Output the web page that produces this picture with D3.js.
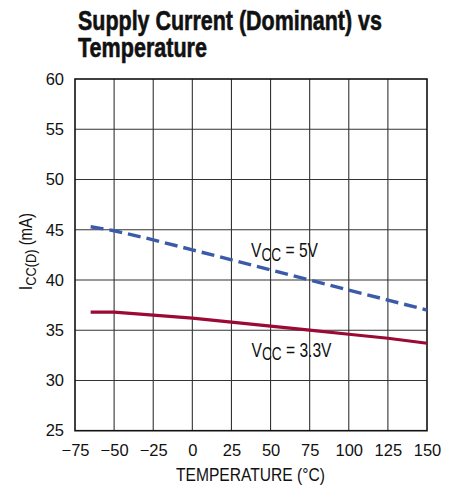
<!DOCTYPE html>
<html><head><meta charset="utf-8">
<script src="https://cdn.jsdelivr.net/npm/d3@7/dist/d3.min.js"></script>
<style>body{margin:0;background:#fff}svg{display:block}</style>
</head><body>
<svg id="c" width="458" height="490"></svg>
<script>
const temps = [-65, -50, -25, 0, 25, 50, 75, 100, 125, 150];
const vcc5 = [45.3, 44.9, 44.0, 43.0, 42.0, 41.0, 40.0, 39.0, 38.0, 37.0];
const vcc33 = [36.8, 36.8, 36.5, 36.2, 35.8, 35.4, 35.0, 34.6, 34.2, 33.7];
const xTicks = [-75, -50, -25, 0, 25, 50, 75, 100, 125, 150];
const yTicks = [25, 30, 35, 40, 45, 50, 55, 60];

const svg = d3.select("#c");
const L = 75, R = 427, T = 79, B = 430.7;
const x = d3.scaleLinear().domain([-75, 150]).range([L, R]);
const y = d3.scaleLinear().domain([25, 60]).range([B, T]);
const font = "'Liberation Sans', Arial, sans-serif";

// title
svg.append("text").attr("x", 78).attr("y", 30)
  .attr("font-family", font).attr("font-weight", "bold").attr("font-size", 28)
  .attr("stroke", "#111").attr("stroke-width", 0.6).attr("fill", "#111")
  .attr("textLength", 304).attr("lengthAdjust", "spacingAndGlyphs")
  .text("Supply Current (Dominant) vs");
svg.append("text").attr("x", 78).attr("y", 57)
  .attr("font-family", font).attr("font-weight", "bold").attr("font-size", 28)
  .attr("stroke", "#111").attr("stroke-width", 0.6).attr("fill", "#111")
  .attr("textLength", 129).attr("lengthAdjust", "spacingAndGlyphs")
  .text("Temperature");

// grid
const g = svg.append("g");
g.selectAll(".vg").data(xTicks.slice(1, -1)).join("line")
  .attr("x1", d => x(d)).attr("x2", d => x(d)).attr("y1", T).attr("y2", B)
  .attr("stroke", "#333").attr("stroke-width", 1.1);
g.selectAll(".hg").data(yTicks.slice(1, -1)).join("line")
  .attr("x1", L).attr("x2", R).attr("y1", d => y(d)).attr("y2", d => y(d))
  .attr("stroke", "#333").attr("stroke-width", 1.1);
g.append("rect").attr("x", L).attr("y", T).attr("width", R - L).attr("height", B - T)
  .attr("fill", "none").attr("stroke", "#111").attr("stroke-width", 1.6);

// axes
const xa = svg.append("g").attr("transform", `translate(0,${B})`)
  .call(d3.axisBottom(x).tickValues(xTicks).tickSize(0).tickPadding(13.5).tickFormat(d3.format("d")));
const ya = svg.append("g").attr("transform", `translate(${L},0)`)
  .call(d3.axisLeft(y).tickValues(yTicks).tickSize(0).tickPadding(11));
[xa, ya].forEach(a => {
  a.select(".domain").remove();
  a.selectAll("text").attr("font-family", font).attr("font-size", 16.5).attr("fill", "#111");
});

// lines
const line = d3.line().x((d, i) => x(temps[i])).y(d => y(d));
svg.append("path").datum(vcc33).attr("d", line).attr("fill", "none")
  .attr("stroke", "#9a0a35").attr("stroke-width", 3.2);
svg.append("path").datum(vcc5).attr("d", line).attr("fill", "none")
  .attr("stroke", "#3b5aa8").attr("stroke-width", 3.4).attr("stroke-dasharray", "13,6");

// condensed text helper: scales a group horizontally to a target width
function condensed(transformBase, w, anchorMiddle, build) {
  const grp = svg.append("g");
  const t = grp.append("text").attr("font-family", font).attr("fill", "#111");
  build(t);
  const bw = t.node().getComputedTextLength();
  const sx = w / bw;
  if (anchorMiddle) t.attr("x", -bw / 2);
  grp.attr("transform", `${transformBase} scale(${sx},1)`);
  return grp;
}
function vlabel(xp, yp, rest, w) {
  condensed(`translate(${xp},${yp})`, w, false, t => {
    t.attr("font-size", 20);
    t.append("tspan").text("V");
    t.append("tspan").attr("dy", 3.5).attr("font-size", 17.5).text("CC");
    t.append("tspan").attr("dy", -3.5).text(rest);
  });
}
vlabel(251, 257, " = 5V", 67);
vlabel(251.5, 356.7, " = 3.3V", 80);

// y label
condensed("translate(32,251.5) rotate(-90)", 77, true, t => {
  t.attr("font-size", 18);
  t.append("tspan").text("I");
  t.append("tspan").attr("dy", 3.5).attr("font-size", 15.5).text("CC(D)");
  t.append("tspan").attr("dy", -3.5).text(" (mA)");
});

// x label
condensed("translate(250.5,481)", 149, true, t => {
  t.attr("font-size", 18).text("TEMPERATURE (°C)");
});

// figure code (cut off at bottom)
svg.append("text").attr("x", 427).attr("y", 496).attr("text-anchor", "end")
  .attr("font-family", font).attr("font-size", 9).attr("fill", "#222")
  .text("2875 G08");
</script>
</body></html>
